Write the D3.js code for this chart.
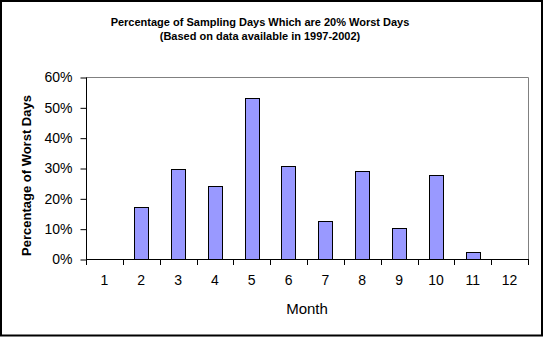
<!DOCTYPE html>
<html><head><meta charset="utf-8">
<script src="https://cdn.jsdelivr.net/npm/d3@7"></script>
<style>body{margin:0;background:#fff}svg{display:block}</style>
</head><body>
<script>
const months = ["1","2","3","4","5","6","7","8","9","10","11","12"];
const values = [0, 0.172, 0.298, 0.241, 0.531, 0.307, 0.125, 0.290, 0.102, 0.277, 0.023, 0];
const yTicks = [0, 0.1, 0.2, 0.3, 0.4, 0.5, 0.6];
const titleLines = ["Percentage of Sampling Days Which are 20% Worst Days", "(Based on data available in 1997-2002)"];

const W = 544, H = 338;
const L = 86, R = 528, T = 77, B = 259;
const svg = d3.select("body").append("svg").attr("width", W).attr("height", H);
svg.append("rect").attr("x", 0).attr("y", 0).attr("width", W).attr("height", H).attr("fill", "#fff");
svg.append("rect").attr("x", 1).attr("y", 1).attr("width", 541).attr("height", 334.5)
  .attr("fill", "none").attr("stroke", "#000").attr("stroke-width", 2);

const p = 0.61;
const x = d3.scaleBand().domain(months).range([L, R]).paddingInner(p).paddingOuter(p / 2);
const y = d3.scaleLinear().domain([0, 0.6]).range([B, T]);

// plot frame (gray top/right)
svg.append("path").attr("d", `M${L},${T+0.5}H${R+0.5}V${B}`).attr("fill", "none").attr("stroke", "#808080").attr("stroke-width", 1);

// bars
svg.append("g").selectAll("rect").data(values.map((v, i) => ({m: months[i], v})).filter(d => d.v > 0))
  .join("rect")
  .attr("x", d => Math.round(x(d.m)) + 0.5)
  .attr("y", d => Math.round(y(d.v)) + 0.5)
  .attr("width", Math.round(x.bandwidth()))
  .attr("height", d => Math.round(y(0)) - Math.round(y(d.v)))
  .attr("fill", "#9999FF").attr("stroke", "#000").attr("stroke-width", 1);

// y axis
const ya = svg.append("g").attr("transform", `translate(${L+0.5},0.5)`)
  .call(d3.axisLeft(y).tickValues(yTicks).tickFormat(d3.format(".0%")).tickSize(6).tickPadding(8));
ya.select(".domain").attr("d", `M0,${T}V${B}`).attr("stroke", "#000");
ya.selectAll("text").attr("font-family", "Arial, 'Liberation Sans', sans-serif").attr("font-size", 14).attr("fill", "#000");

// x axis: boundary ticks
const step = x.step();
const bounds = d3.range(months.length + 1).map(i => L + i * step);
svg.append("line").attr("x1", L).attr("x2", R + 1).attr("y1", B + 0.5).attr("y2", B + 0.5).attr("stroke", "#000");
svg.append("g").selectAll("line").data(bounds).join("line")
  .attr("x1", d => Math.round(d) + 0.5).attr("x2", d => Math.round(d) + 0.5)
  .attr("y1", B).attr("y2", B + 6).attr("stroke", "#000");
const xa = svg.append("g").attr("transform", `translate(0,${B})`)
  .call(d3.axisBottom(x).tickSize(0).tickPadding(16));
xa.select(".domain").remove();
xa.selectAll("text").attr("font-family", "Arial, 'Liberation Sans', sans-serif").attr("font-size", 14).attr("fill", "#000");

// titles
svg.append("g").selectAll("text").data(titleLines).join("text")
  .attr("x", 260).attr("y", (d, i) => 26 + i * 14)
  .attr("text-anchor", "middle").attr("font-family", "Arial, 'Liberation Sans', sans-serif")
  .attr("font-weight", "bold").attr("font-size", 11).text(d => d);

svg.append("text").attr("x", (L + R) / 2).attr("y", 314).attr("text-anchor", "middle")
  .attr("font-family", "Arial, 'Liberation Sans', sans-serif").attr("font-size", 15).text("Month");

svg.append("text").attr("transform", "translate(31,175.5) rotate(-90)").attr("text-anchor", "middle")
  .attr("font-family", "Arial, 'Liberation Sans', sans-serif").attr("font-weight", "bold").attr("font-size", 13)
  .text("Percentage of Worst Days");
</script>
</body></html>
